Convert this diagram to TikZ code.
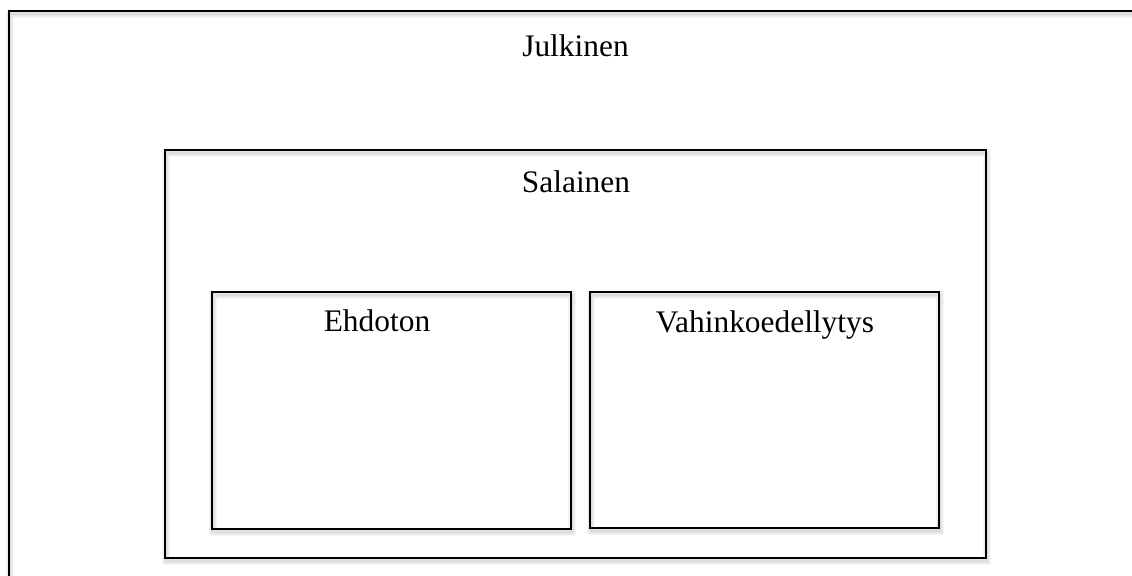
\documentclass[tikz,border=0pt]{standalone}
\usepackage{fontspec}
\setmainfont{Liberation Serif}
\begin{document}
\begin{tikzpicture}[x=0.5pt,y=-0.5pt,
  frame/.style={draw=black, line width=0.8pt},
  frameshade/.style={draw=black, line width=#1, opacity=0.035},
  lbl/.style={font=\fontsize{15.7}{18}\selectfont, inner sep=0pt, anchor=base}
]
\useasboundingbox (0,0) rectangle (1132,576);
\clip (0,0) rectangle (1132,576);

% soft shadows cast by the frame lines
\foreach \w in {1pt,2pt,3pt,4pt}{
  \draw[frameshade=\w] (10,14) rectangle (1142,594);
  \draw[frameshade=\w] (166,153) rectangle (987,561);
  \draw[frameshade=\w] (213,295) rectangle (572,532);
  \draw[frameshade=\w] (591,295) rectangle (940,531);
}

% nested frames
\draw[frame] (9,11) rectangle (1140,590);
\draw[frame] (165,150) rectangle (986,558);
\draw[frame] (212,292) rectangle (571,529);
\draw[frame] (590,292) rectangle (939,528);

% labels
\node[lbl] (julkinen) at (575.5,57) {Julkinen};
\node[lbl] (salainen) at (576,193) {Salainen};
\node[lbl] (ehdoton) at (377,332) {Ehdoton};
\node[lbl] (vahinko) at (765,333) {Vahinkoedellytys};
\end{tikzpicture}
\end{document}
